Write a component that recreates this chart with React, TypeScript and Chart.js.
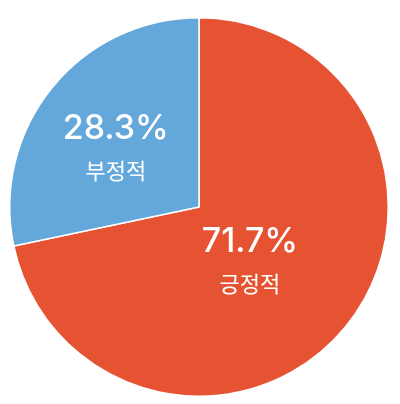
import React, { useEffect, useRef } from "react";
import { Chart, registerables } from "chart.js";

Chart.register(...registerables);

const categories = ["긍정적", "부정적"];
const shares = [71.7, 28.3];
const sliceColors = ["#E55333", "#64A8DB"];
// where each label group sits: fraction of radius, and a nudge off the slice's mid-angle (degrees)
const labelRadius = [0.395, 0.537];
const labelAngleShift = [8, -4];

const sliceLabels = {
  id: "sliceLabels",
  afterDatasetsDraw(chart: Chart) {
    const ctx = chart.ctx;
    const meta = chart.getDatasetMeta(0);
    meta.data.forEach((arc: any, i: number) => {
      const { x, y, startAngle, endAngle, outerRadius } = arc.getProps(
        ["x", "y", "startAngle", "endAngle", "outerRadius"],
        true
      );
      const mid = (startAngle + endAngle) / 2 + (labelAngleShift[i] * Math.PI) / 180;
      const r = outerRadius * labelRadius[i];
      const cx = x + Math.cos(mid) * r;
      const cy = y + Math.sin(mid) * r;
      ctx.save();
      ctx.fillStyle = "#ffffff";
      ctx.textAlign = "center";
      ctx.textBaseline = "middle";
      ctx.font = "500 34px Inter, 'Liberation Sans', sans-serif";
      ctx.fillText(shares[i].toFixed(1) + "%", cx, cy - 20);
      ctx.font = "22px 'Noto Sans CJK KR', sans-serif";
      ctx.fillText(categories[i], cx, cy + 22);
      ctx.restore();
    });
  },
};

const PieChart: React.FC = () => {
  const chartRef = useRef<HTMLCanvasElement>(null);
  const chartInstanceRef = useRef<Chart | null>(null);

  useEffect(() => {
    if (!chartRef.current) return;
    const ctx = chartRef.current.getContext("2d");

    if (chartInstanceRef.current) {
      chartInstanceRef.current.destroy();
    }

    chartInstanceRef.current = new Chart(ctx!, {
      type: "pie",
      data: {
        labels: categories,
        datasets: [
          {
            data: shares,
            backgroundColor: sliceColors,
            borderColor: "#ffffff",
            borderWidth: 1.5,
          },
        ],
      },
      options: {
        responsive: true,
        maintainAspectRatio: false,
        animation: false,
        layout: { padding: { left: 9, right: 11, top: 17, bottom: 7 } },
        plugins: {
          legend: { display: false },
          tooltip: { enabled: false },
        },
      },
      plugins: [sliceLabels],
    });

    return () => {
      if (chartInstanceRef.current) {
        chartInstanceRef.current.destroy();
        chartInstanceRef.current = null;
      }
    };
  }, []);

  return (
    <div
      style={{
        position: "absolute",
        left: 0,
        top: 0,
        width: "400px",
        height: "404px",
        background: "#ffffff",
      }}
    >
      <canvas ref={chartRef} />
    </div>
  );
};

export default function App() {
  return <PieChart />;
}
